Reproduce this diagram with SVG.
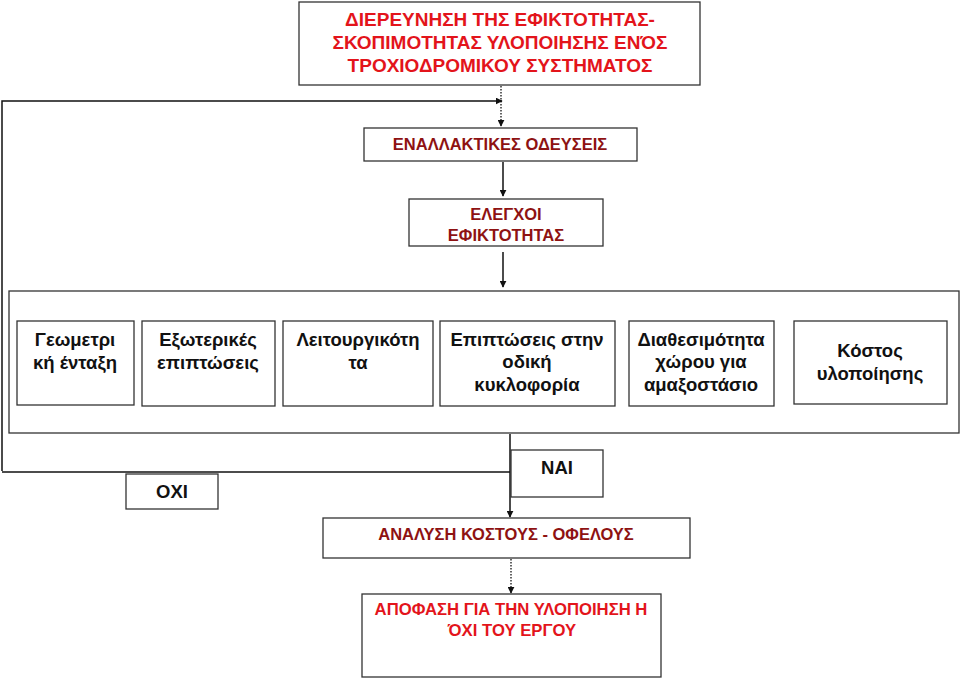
<svg xmlns="http://www.w3.org/2000/svg" width="960" height="678" viewBox="0 0 960 678">
<defs>
<style>
.box{fill:#fff;stroke:#333;stroke-width:1.3}
.ln{fill:none;stroke:#111;stroke-width:1.5}
.dot{fill:none;stroke:#111;stroke-width:1.3;stroke-dasharray:1.5 1.5}
.t{font-family:"Liberation Sans",Arial,sans-serif;font-weight:bold;text-anchor:middle}
.red{fill:#e3141b;font-size:19px}
.dred{fill:#8e1212;font-size:16.5px}
.blk{fill:#111;font-size:18.5px}
</style>
<marker id="ah" viewBox="0 0 10 10" refX="9" refY="5" markerWidth="7" markerHeight="7" markerUnits="userSpaceOnUse" orient="auto"><path d="M0,0 L10,5 L0,10 z" fill="#111"/></marker>
</defs>
<rect width="960" height="678" fill="#fff"/>
<g id="connectors">
<path class="dot" d="M501,86 V126" marker-end="url(#ah)"/>
<path class="ln" d="M2,471 V101 H502" marker-end="url(#ah)"/>
<path class="ln" d="M503,162 V196" marker-end="url(#ah)"/>
<path class="ln" d="M503,252 V287" marker-end="url(#ah)"/>
<path class="ln" d="M2,472 H510"/>
<path class="ln" d="M510,434 V517" marker-end="url(#ah)"/>
<path class="dot" d="M511,559 V593" marker-end="url(#ah)"/>
</g>
<g id="title">
<rect class="box" x="299" y="2" width="401" height="83"/>
<text class="t red" x="500" y="26">ΔΙΕΡΕΥΝΗΣΗ ΤΗΣ ΕΦΙΚΤΟΤΗΤΑΣ-</text>
<text class="t red" x="500" y="49">ΣΚΟΠΙΜΟΤΗΤΑΣ ΥΛΟΠΟΙΗΣΗΣ ΕΝΌΣ</text>
<text class="t red" x="500" y="72">ΤΡΟΧΙΟΔΡΟΜΙΚΟΥ ΣΥΣΤΗΜΑΤΟΣ</text>
</g>
<g id="alternatives">
<rect class="box" x="364" y="128" width="273" height="33"/>
<text class="t dred" x="500" y="150">ΕΝΑΛΛΑΚΤΙΚΕΣ ΟΔΕΥΣΕΙΣ</text>
</g>
<g id="checks">
<rect class="box" x="409" y="199" width="194" height="47"/>
<text class="t dred" x="506" y="220">ΕΛΕΓΧΟΙ</text>
<text class="t dred" x="506" y="241">ΕΦΙΚΤΟΤΗΤΑΣ</text>
</g>
<g id="criteria">
<rect class="box" x="9" y="291" width="950" height="142"/>
</g>
<g id="c1">
<rect class="box" x="17" y="321" width="117" height="84"/>
<text class="t blk" x="75" y="346">Γεωμετρι</text>
<text class="t blk" x="75" y="369">κή ένταξη</text>
</g>
<g id="c2">
<rect class="box" x="142" y="321" width="133" height="85"/>
<text class="t blk" x="208" y="346">Εξωτερικές</text>
<text class="t blk" x="208" y="369">επιπτώσεις</text>
</g>
<g id="c3">
<rect class="box" x="283" y="321" width="150" height="85"/>
<text class="t blk" x="358" y="346">Λειτουργικότη</text>
<text class="t blk" x="358" y="369">τα</text>
</g>
<g id="c4">
<rect class="box" x="440" y="321" width="175" height="85"/>
<text class="t blk" x="527" y="346">Επιπτώσεις στην</text>
<text class="t blk" x="527" y="368">οδική</text>
<text class="t blk" x="527" y="391">κυκλοφορία</text>
</g>
<g id="c5">
<rect class="box" x="629" y="321" width="145" height="85"/>
<text class="t blk" x="701" y="346">Διαθεσιμότητα</text>
<text class="t blk" x="701" y="368">χώρου για</text>
<text class="t blk" x="701" y="391">αμαξοστάσιο</text>
</g>
<g id="c6">
<rect class="box" x="794" y="321" width="153" height="83"/>
<text class="t blk" x="870" y="357">Κόστος</text>
<text class="t blk" x="870" y="380">υλοποίησης</text>
</g>
<g id="no">
<rect class="box" x="126" y="474" width="92" height="35"/>
<text class="t blk" x="172" y="498">ΟΧΙ</text>
</g>
<g id="yes">
<rect class="box" x="511" y="450" width="92" height="47"/>
<text class="t blk" x="557" y="474">ΝΑΙ</text>
</g>
<g id="cba">
<rect class="box" x="323" y="518" width="367" height="40"/>
<text class="t dred" x="506" y="540">ΑΝΑΛΥΣΗ ΚΟΣΤΟΥΣ - ΟΦΕΛΟΥΣ</text>
</g>
<g id="decision">
<rect class="box" x="362" y="594" width="299" height="83"/>
<text class="t red" x="511" y="615" style="font-size:16.7px">ΑΠΟΦΑΣΗ ΓΙΑ ΤΗΝ ΥΛΟΠΟΙΗΣΗ Η</text>
<text class="t red" x="512" y="636" style="font-size:16.7px">ΌΧΙ ΤΟΥ ΕΡΓΟΥ</text>
</g>
</svg>
